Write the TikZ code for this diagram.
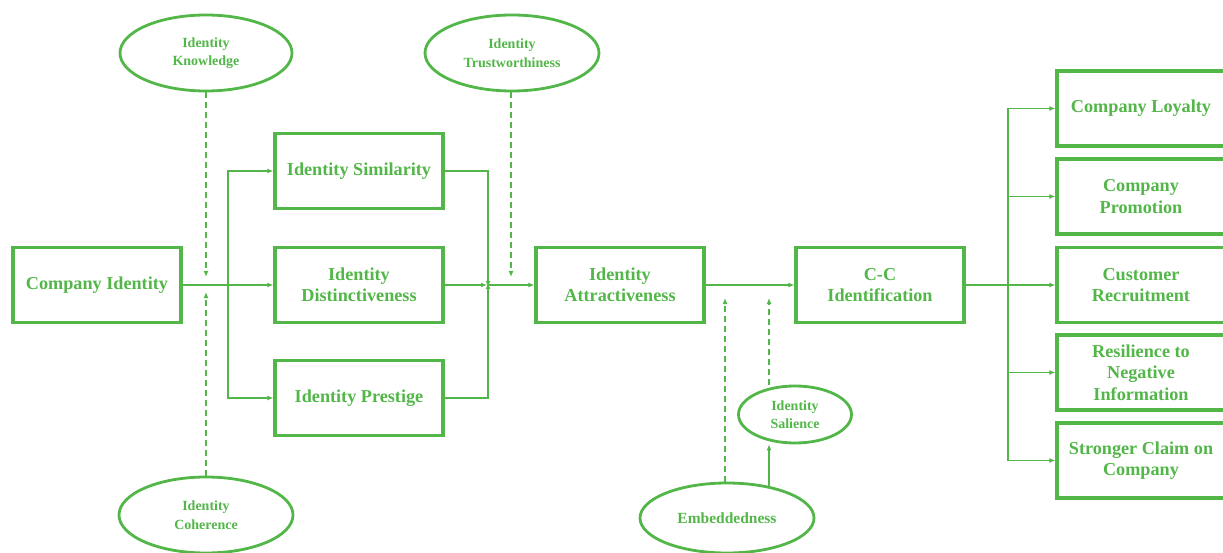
\documentclass[tikz,border=0pt]{standalone}
\usepackage{fontspec}
\setmainfont{Liberation Serif}
\usetikzlibrary{shapes.geometric,arrows.meta}
\definecolor{gr}{RGB}{82,182,72}
\begin{document}
\begin{tikzpicture}[x=1pt,y=-1pt,
  box/.style={draw=gr,line width=3.2pt,minimum width=168pt,minimum height=75pt,inner sep=0pt,
    text=gr,font=\fontsize{18.2}{21.5}\selectfont\bfseries,align=center},
  ell/.style={ellipse,draw=gr,line width=2.8pt,inner sep=0pt,text=gr,align=center,
    font=\fontsize{14}{18.5}\selectfont\bfseries},
  arr/.style={draw=gr,line width=1.6pt,-{Latex[length=6pt,width=5pt]}},
  darr/.style={draw=gr,line width=1.6pt,dash pattern=on 6pt off 4pt,-{Latex[length=6pt,width=5pt]}}]
\useasboundingbox (0,0) rectangle (1223,553);
% boxes
\node[box] (ci) at (97,285) {Company Identity};
\node[box] (sim) at (359,171) {Identity Similarity};
\node[box] (dist) at (359,285) {Identity\\Distinctiveness};
\node[box] (pre) at (359,398) {Identity Prestige};
\node[box] (att) at (620,285) {Identity\\Attractiveness};
\node[box] (cc) at (880,285) {C-C\\Identification};
\node[box] (loy) at (1141,108.5) {Company Loyalty};
\node[box] (pro) at (1141,196.5) {Company\\Promotion};
\node[box] (rec) at (1141,285) {Customer\\Recruitment};
\node[box] (res) at (1141,372.5) {Resilience to\\Negative\\Information};
\node[box] (str) at (1141,460.5) {Stronger Claim on\\Company};
% ellipses
\node[ell,minimum width=172pt,minimum height=76pt] (kn) at (206,53) {Identity\\Knowledge};
\node[ell,minimum width=174pt,minimum height=76pt] (tr) at (512,53) {Identity\\Trustworthiness};
\node[ell,minimum width=174pt,minimum height=76pt] (co) at (206,515) {Identity\\Coherence};
\node[ell,minimum width=174pt,minimum height=70pt,font=\fontsize{15.5}{18}\selectfont\bfseries] (emb) at (727,518) {Embeddedness};
\node[ell,minimum width=113pt,minimum height=57pt] (sal) at (795,414.5) {Identity\\Salience};
% coordinates
\coordinate (b1) at (228,285);
\coordinate (j1) at (488,285);
\coordinate (k1) at (206,277);
\coordinate (c1) at (206,292);
\coordinate (t1) at (511,277);
\coordinate (e1) at (725,298);
\coordinate (s1) at (769,298);
\coordinate (e2) at (769,488);
\coordinate (b2) at (1008,285);
% connectors
\draw[arr] (ci.east) -- (dist.west);
\draw[arr] (b1) |- (sim.west);
\draw[arr] (b1) |- (pre.west);
\draw[arr] (sim.east) -| ([yshift=-2pt]j1);
\draw[arr] (pre.east) -| ([yshift=2pt]j1);
\draw[arr] (dist.east) -- ([xshift=-1pt]j1);
\draw[arr] (j1) -- (att.west);
\draw[darr] (kn.south) -- (k1);
\draw[darr] (co.north) -- (c1);
\draw[darr] (tr.south -| t1) -- (t1);
\draw[arr] (att.east) -- (cc.west);
\draw[darr] (emb.north -| e1) -- (e1);
\draw[darr] (sal.north -| s1) -- (s1);
\draw[arr] (e2) -- (sal.south -| e2);
\draw[arr] (cc.east) -- (rec.west);
\draw[arr] (b2) |- (loy.west);
\draw[arr] (b2) |- (pro.west);
\draw[arr] (b2) |- (res.west);
\draw[arr] (b2) |- (str.west);
\end{tikzpicture}
\end{document}
